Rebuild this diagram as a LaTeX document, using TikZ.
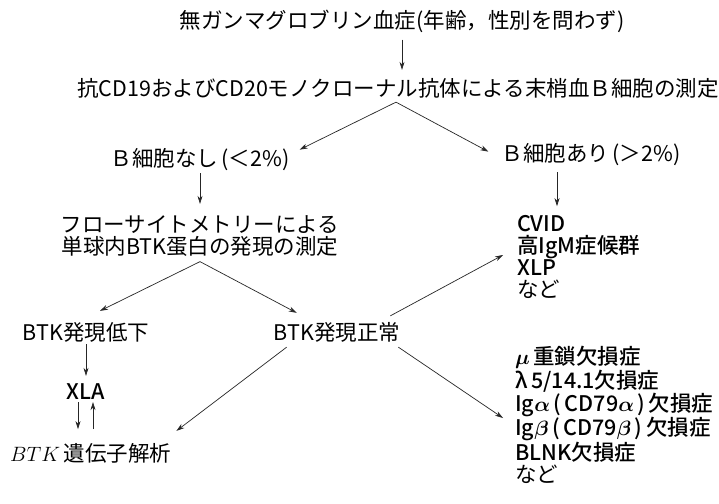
\documentclass[tikz,border=0pt]{standalone}
\usepackage{fontspec}
\setmainfont{Noto Sans CJK JP}[BoldFont={Noto Sans CJK JP Medium}]
\usepackage{bm}
\usetikzlibrary{arrows.meta}
\begin{document}
\begin{tikzpicture}[x=1pt,y=-1pt,
  txt/.style={inner sep=0pt, font=\fontsize{21.5}{22}\selectfont, text=black},
  grp/.style={txt, align=left},
  arr/.style={draw=black!85, line width=0.7pt, -{Stealth[length=8pt,width=5pt,inset=2.5pt]}}]
\useasboundingbox (0,0) rectangle (719,503);
\fill[white] (0,0) rectangle (719,503);
% nodes
\node[txt] (top) at (402,21) {無ガンマグロブリン血症(年齢，性別を問わず)};
\node[txt] (cd) at (398,88) {抗CD19およびCD20モノクローナル抗体による末梢血Ｂ細胞の測定};
\node[txt] (nob) at (200,160) {Ｂ細胞なし\,(＜2\%)};
\node[txt] (yesb) at (591,155) {Ｂ細胞あり\,(＞2\%)};
\node[grp, align=center] (flow) at (200,236.5) {フローサイトメトリーによる\\単球内BTK蛋白の発現の測定};
\node[txt] (low) at (86,332) {BTK発現低下};
\node[txt] (norm) at (337,332) {BTK発現正常};
\node[txt, font=\fontsize{21.5}{22}\selectfont\bfseries] (xla) at (86,392) {XLA};
\node[txt, anchor=west] (gene) at (10,453) {$BTK$\,遺伝子解析};
\node[grp, anchor=west] (cvid) at (517,257) {\textbf{CVID}\\\textbf{高IgM症候群}\\\textbf{XLP}\\など};
\node[grp, anchor=west] (mu) at (515,415) {\textbf{$\bm{\mu}$\,重鎖欠損症}\\\textbf{λ\,5/14.1欠損症}\\\textbf{Ig$\bm{\alpha}$\,(\,CD79$\bm{\alpha}$\,)\,欠損症}\\\textbf{Ig$\bm{\beta}$\,(\,CD79$\bm{\beta}$\,)\,欠損症}\\\textbf{BLNK欠損症}\\など};
% apex coordinates
\coordinate (ap1) at ([shift={(-2,4)}]cd.south);
\coordinate (ap2) at ([shift={(0,4.5)}]flow.south);
% connectors
\draw[arr] ([shift={(0,7)}]top.south) -- ([shift={(0,-8)}]top.south |- cd.north);
\draw[arr] (ap1) -- ([shift={(10,1)}]nob.north east);
\draw[arr] (ap1) -- ([shift={(-13,8)}]yesb.north west);
\draw[arr] ([shift={(0,2)}]nob.south) -- ([shift={(0,-12)}]flow.north);
\draw[arr] ([shift={(-34,6)}]yesb.south) -- ([shift={(40,-9)}]cvid.north west);
\draw[arr] (ap2) -- ([shift={(14,-11)}]low.north);
\draw[arr] (ap2) -- ([shift={(23,-9)}]norm.north west);
\draw[arr] ([shift={(0,2)}]low.south) -- ([shift={(0,-8)}]xla.north);
\draw[arr] ([shift={(-8,2)}]xla.south) -- ++(0,27);
\draw[arr] ([shift={(7,29)}]xla.south) -- ++(0,-27);
\draw[arr] ([shift={(13,5)}]norm.south west) -- ([shift={(5,-12)}]gene.north east);
\draw[arr] ([shift={(-10,-6)}]norm.north east) -- ([shift={(-14,-2)}]cvid.west);
\draw[arr] ([shift={(-2,5)}]norm.south east) -- ([shift={(-12,3)}]mu.west);
\end{tikzpicture}
\end{document}
